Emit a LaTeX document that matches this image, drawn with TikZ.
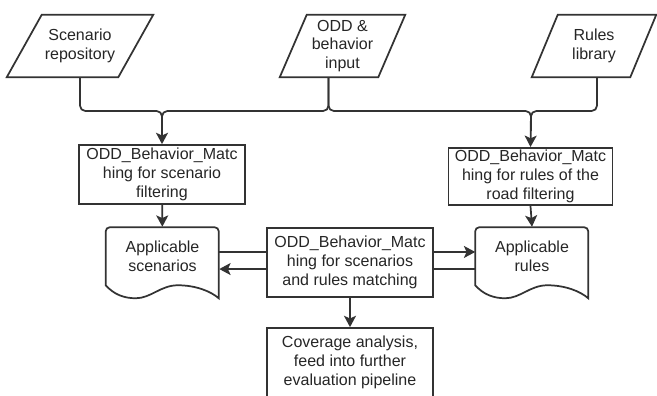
\documentclass[tikz,border=0pt]{standalone}
\usepackage{fontspec}
\setmainfont{Liberation Sans}
\usetikzlibrary{calc,arrows.meta}
\definecolor{inkgray}{HTML}{333333}
\definecolor{textgray}{HTML}{262626}
\tikzset{
	ink/.style={draw=inkgray, line width=1.3pt},
	flow/.style={ink, -{Stealth[length=8.5pt,width=9pt,inset=2pt]}},
	txt/.style={text=textgray, font=\fontsize{12pt}{14pt}\selectfont, align=center, inner sep=0pt},
	procbox/.style={txt, ink, fill=white, rectangle, minimum width=124.5pt, minimum height=44.25pt},
	inputbox/.style={txt, rectangle, minimum height=46.5pt},
	docbox/.style={txt, rectangle, minimum width=84.75pt, minimum height=43.5pt},
}
% slanted outline round the body of an input node
\def\paraoutline(#1)(#2){\draw[ink] ($(#1.south west)+(-#2,0)$) -- (#1.north west) -- ($(#1.north east)+(#2,0)$) -- (#1.south east) -- cycle;}
\def\docoutline(#1){%
	\begin{scope}[shift={(#1.south west)}]
		\draw[ink] (0,0) [rounded corners=3pt] -- (0,-58) -- (113,-58) [sharp corners] -- (113,13)
			.. controls (105,6) and (90,0) .. (72,0)
			.. controls (55,0) and (45,13) .. (30,13)
			.. controls (18,13) and (8,9) .. (0,0) -- cycle;
	\end{scope}}

\begin{document}
\begin{tikzpicture}[x=0.75pt, y=-0.75pt]
		%%%%% START %%%%%
		
		\fill[white] (0,0) rectangle (657,396);
		\useasboundingbox (0,0) rectangle (657,396);
		
		% inputs
		\node[inputbox, minimum width=57pt] (scen) at (80,46) {Scenario\\repository};
		\paraoutline(scen)(35)
		\node[inputbox, minimum width=53.25pt] (odd) at (342.5,46) {ODD \&\\behavior\\input};
		\paraoutline(odd)(27)
		\node[inputbox, minimum width=54pt] (rules) at (594,46) {Rules\\library};
		\paraoutline(rules)(26)
		
		% filtering
		\node[procbox] (filtsc) at (162,174.5) {ODD\_Behavior\_Matc\\hing for scenario\\filtering};
		\node[procbox, minimum width=123pt, minimum height=43pt] (filtrl) at (530.5,176.5) {ODD\_Behavior\_Matc\\hing for rules of the\\road filtering};
		
		% outputs
		\node[docbox] (apsc) at (162.5,256) {Applicable\\scenarios};
		\docoutline(apsc)
		\node[docbox] (aprl) at (532,256) {Applicable\\rules};
		\docoutline(aprl)
		
		\node[procbox, minimum height=51.75pt] (match) at (350,262.5) {ODD\_Behavior\_Matc\\hing for scenarios\\and rules matching};
		\node[procbox, minimum height=51.75pt] (cover) at (350,362.5) {Coverage analysis,\\feed into further\\evaluation pipeline};
		
		% joins
		\coordinate (jl) at (162,111);
		\coordinate (jr) at (531,111);
		\coordinate (oddb) at ([xshift=-10.5pt]odd.south);
		
		\draw[flow, rounded corners=4pt] (scen.south) |- (jl) -- (filtsc.north);
		\draw[ink, rounded corners=4pt] (oddb) |- (jl) -- ++(0,20);
		\draw[ink, rounded corners=4pt] (oddb) |- (jr) -- ++(0,20);
		\draw[flow, rounded corners=4pt] ([xshift=2.25pt]rules.south) |- (jr) -- (filtrl.north);
		
		\draw[flow] (filtsc) -- (apsc);
		\draw[flow] (filtrl.south) -- (aprl.north);
		
		\coordinate (ml1) at ([yshift=7.9pt]match.west);
		\coordinate (ml2) at ([yshift=-4.9pt]match.west);
		\coordinate (mr1) at ([yshift=7.9pt]match.east);
		\coordinate (mr2) at ([yshift=-4.9pt]match.east);
		\draw[ink] (ml1) -- (ml1 -| apsc.east);
		\draw[flow] (ml2) -- (ml2 -| apsc.east);
		\draw[flow] (mr1) -- (mr1 -| aprl.west);
		\draw[ink] (mr2) -- (mr2 -| aprl.west);
		
		\draw[flow] (match) -- (cover);
		
		%%%%% END %%%%%
\end{tikzpicture}
\end{document}
